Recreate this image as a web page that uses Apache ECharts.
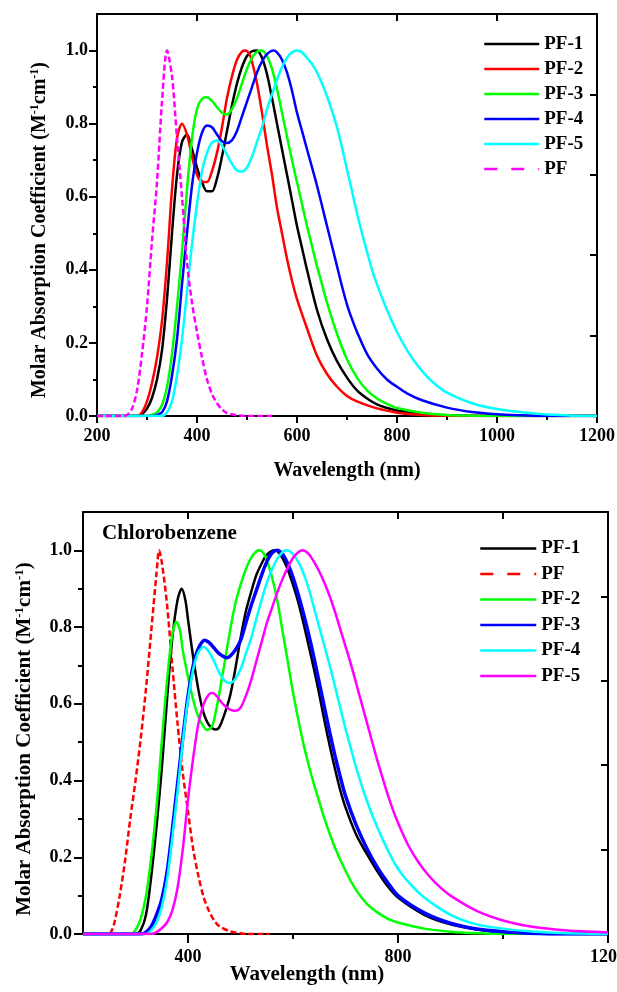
<!DOCTYPE html>
<html>
<head>
<meta charset="utf-8">
<script src="https://cdn.jsdelivr.net/npm/echarts@6/dist/echarts.min.js"></script>
<style>
html,body{margin:0;padding:0;background:#fff;}
#c1{position:absolute;left:0;top:0;width:617px;height:496px;}
#c2{position:absolute;left:0;top:496px;width:617px;height:496px;}
</style>
</head>
<body>
<div id="c1"></div>
<div id="c2"></div>
<script>
// ---------- Top panel data: [wavelength (nm), normalized absorption] ----------
const topPF1 = [[200,0],[280,0],[290,0.005],[300,0.02],[310,0.05],[320,0.10],[330,0.18],[340,0.32],[350,0.50],[360,0.66],[370,0.75],[380,0.77],[390,0.73],[400,0.68],[410,0.64],[420,0.615],[430,0.615],[440,0.65],[450,0.71],[460,0.78],[470,0.85],[480,0.91],[490,0.955],[500,0.985],[510,0.998],[520,1.0],[530,0.98],[540,0.935],[550,0.87],[560,0.80],[570,0.73],[580,0.66],[590,0.59],[600,0.52],[610,0.46],[620,0.40],[640,0.29],[660,0.21],[680,0.15],[700,0.105],[720,0.07],[740,0.048],[760,0.032],[780,0.022],[800,0.015],[850,0.006],[900,0.002],[1000,0],[1200,0]];
const topPF2 = [[200,0],[280,0],[290,0.01],[300,0.04],[310,0.09],[320,0.16],[330,0.26],[340,0.42],[350,0.62],[360,0.76],[370,0.80],[380,0.77],[390,0.71],[400,0.66],[410,0.64],[420,0.64],[430,0.67],[440,0.72],[450,0.79],[460,0.87],[470,0.93],[480,0.975],[490,0.997],[497,1.0],[505,0.99],[510,0.97],[520,0.91],[530,0.83],[540,0.74],[550,0.66],[560,0.57],[570,0.50],[580,0.43],[590,0.37],[600,0.32],[620,0.24],[640,0.165],[660,0.115],[680,0.08],[700,0.055],[720,0.04],[750,0.025],[775,0.016],[800,0.009],[850,0.003],[900,0.001],[1000,0],[1200,0]];
const topPF3 = [[200,0],[300,0],[310,0.003],[320,0.01],[330,0.03],[340,0.08],[350,0.17],[360,0.30],[370,0.45],[380,0.62],[390,0.76],[400,0.84],[410,0.868],[420,0.872],[430,0.862],[440,0.845],[450,0.83],[460,0.825],[470,0.84],[480,0.87],[490,0.91],[500,0.95],[510,0.98],[520,0.997],[530,1.0],[540,0.985],[550,0.95],[560,0.895],[570,0.83],[580,0.765],[590,0.70],[600,0.64],[610,0.58],[620,0.52],[630,0.465],[640,0.41],[650,0.36],[660,0.31],[680,0.225],[700,0.155],[720,0.105],[740,0.07],[760,0.048],[780,0.033],[800,0.022],[850,0.009],[900,0.003],[950,0.001],[1000,0],[1200,0]];
const topPF4 = [[200,0],[310,0],[320,0.003],[330,0.01],[340,0.04],[350,0.11],[360,0.21],[370,0.36],[380,0.50],[390,0.63],[400,0.72],[410,0.775],[420,0.795],[430,0.79],[440,0.77],[450,0.752],[460,0.747],[470,0.755],[480,0.78],[490,0.82],[500,0.86],[510,0.90],[520,0.94],[530,0.97],[540,0.99],[553,1.0],[560,0.995],[570,0.975],[580,0.94],[590,0.89],[600,0.83],[610,0.78],[620,0.73],[640,0.63],[660,0.52],[680,0.41],[690,0.355],[700,0.305],[710,0.265],[720,0.23],[740,0.17],[760,0.13],[780,0.10],[800,0.08],[820,0.062],[850,0.043],[900,0.023],[950,0.011],[1000,0.005],[1050,0.002],[1100,0],[1200,0]];
const topPF5 = [[200,0],[330,0],[340,0.01],[350,0.04],[360,0.11],[370,0.21],[380,0.34],[390,0.47],[400,0.58],[410,0.67],[420,0.72],[430,0.748],[440,0.754],[450,0.74],[460,0.715],[470,0.69],[480,0.672],[490,0.669],[500,0.68],[510,0.71],[520,0.75],[530,0.79],[540,0.84],[550,0.88],[560,0.92],[570,0.955],[580,0.98],[590,0.995],[600,1.0],[610,0.995],[620,0.98],[630,0.963],[640,0.94],[650,0.91],[660,0.875],[670,0.835],[680,0.79],[690,0.735],[700,0.675],[710,0.615],[720,0.555],[730,0.50],[740,0.45],[750,0.40],[760,0.36],[780,0.29],[800,0.23],[820,0.18],[840,0.14],[860,0.108],[880,0.083],[900,0.064],[950,0.035],[1000,0.019],[1050,0.01],[1100,0.004],[1150,0.001],[1200,0]];
const topPF  = [[200,0],[250,0],[260,0.003],[270,0.02],[280,0.07],[290,0.17],[300,0.30],[310,0.48],[320,0.64],[330,0.86],[340,1.0],[350,0.93],[360,0.76],[370,0.60],[380,0.42],[390,0.31],[400,0.23],[410,0.16],[420,0.10],[430,0.06],[440,0.035],[450,0.018],[460,0.008],[480,0.002],[500,0],[555,0]];

// ---------- Bottom panel data (Chlorobenzene) ----------
const botPF1 = [[200,0],[300,0],[310,0.01],[320,0.05],[330,0.15],[340,0.28],[350,0.43],[360,0.61],[370,0.77],[380,0.87],[388,0.90],[395,0.87],[400,0.82],[410,0.72],[420,0.635],[430,0.575],[440,0.545],[453,0.533],[460,0.54],[470,0.575],[480,0.62],[490,0.69],[500,0.77],[510,0.84],[520,0.89],[530,0.935],[540,0.965],[550,0.988],[565,1.0],[570,0.998],[580,0.98],[590,0.95],[600,0.91],[610,0.865],[620,0.81],[630,0.75],[640,0.69],[650,0.625],[660,0.555],[670,0.49],[680,0.43],[690,0.375],[700,0.33],[720,0.26],[740,0.21],[760,0.165],[780,0.125],[800,0.095],[850,0.05],[900,0.025],[950,0.012],[1000,0.005],[1050,0.002],[1100,0],[1200,0]];
const botPF  = [[200,0],[250,0],[255,0.01],[260,0.03],[270,0.10],[280,0.19],[290,0.30],[300,0.40],[310,0.51],[320,0.64],[330,0.79],[340,0.94],[345,1.0],[350,0.97],[360,0.86],[370,0.70],[380,0.55],[390,0.42],[400,0.32],[410,0.22],[420,0.15],[430,0.095],[440,0.06],[450,0.035],[460,0.02],[480,0.007],[500,0.002],[510,0],[555,0]];
const botPF2 = [[200,0],[290,0],[300,0.01],[310,0.04],[320,0.10],[330,0.20],[340,0.33],[350,0.50],[360,0.66],[370,0.78],[378,0.813],[385,0.79],[390,0.74],[400,0.67],[410,0.61],[420,0.565],[430,0.54],[436,0.532],[445,0.54],[450,0.56],[460,0.63],[470,0.71],[480,0.79],[490,0.86],[500,0.91],[510,0.95],[520,0.98],[530,0.997],[537,1.0],[545,0.99],[550,0.975],[560,0.93],[570,0.87],[580,0.79],[590,0.71],[600,0.63],[610,0.56],[620,0.495],[630,0.44],[640,0.39],[650,0.345],[660,0.30],[680,0.225],[700,0.165],[720,0.115],[740,0.08],[760,0.057],[780,0.04],[800,0.03],[850,0.014],[900,0.006],[950,0.002],[1000,0],[1200,0]];
const botPF3 = [[200,0],[310,0],[320,0.005],[330,0.02],[340,0.05],[350,0.09],[360,0.16],[370,0.27],[380,0.39],[390,0.51],[400,0.62],[410,0.70],[420,0.745],[432,0.766],[440,0.76],[450,0.745],[460,0.73],[474,0.72],[480,0.724],[490,0.74],[500,0.765],[510,0.81],[520,0.855],[530,0.895],[540,0.935],[550,0.97],[560,0.993],[570,1.0],[580,0.99],[590,0.965],[600,0.93],[610,0.885],[620,0.835],[630,0.78],[640,0.72],[650,0.655],[660,0.59],[670,0.525],[680,0.465],[690,0.41],[700,0.36],[720,0.285],[740,0.225],[760,0.175],[780,0.135],[800,0.10],[850,0.055],[900,0.028],[950,0.013],[1000,0.006],[1050,0.002],[1100,0],[1200,0]];
const botPF4 = [[200,0],[320,0],[330,0.01],[340,0.03],[350,0.07],[360,0.14],[370,0.25],[380,0.37],[390,0.50],[400,0.61],[410,0.69],[420,0.735],[430,0.748],[440,0.735],[450,0.71],[460,0.68],[470,0.66],[480,0.654],[490,0.665],[500,0.69],[510,0.73],[520,0.77],[530,0.82],[540,0.87],[550,0.915],[560,0.95],[570,0.978],[580,0.995],[588,1.0],[600,0.99],[610,0.97],[620,0.94],[630,0.90],[640,0.85],[650,0.80],[660,0.75],[670,0.70],[680,0.645],[690,0.59],[700,0.535],[710,0.485],[720,0.435],[740,0.35],[760,0.28],[780,0.22],[800,0.17],[820,0.135],[850,0.095],[900,0.05],[950,0.025],[1000,0.014],[1050,0.007],[1100,0.003],[1150,0.001],[1200,0]];
const botPF5 = [[200,0],[330,0],[340,0.005],[350,0.015],[360,0.03],[370,0.06],[380,0.12],[390,0.22],[400,0.35],[410,0.46],[420,0.55],[430,0.60],[440,0.625],[447,0.628],[455,0.62],[460,0.61],[470,0.595],[480,0.585],[490,0.582],[500,0.59],[510,0.62],[520,0.66],[530,0.71],[540,0.76],[550,0.81],[560,0.85],[570,0.89],[580,0.925],[590,0.955],[600,0.98],[610,0.995],[618,1.0],[630,0.99],[640,0.97],[650,0.945],[660,0.915],[670,0.88],[680,0.84],[690,0.795],[700,0.75],[710,0.705],[720,0.655],[730,0.605],[740,0.555],[750,0.505],[760,0.455],[770,0.41],[780,0.365],[790,0.325],[800,0.29],[820,0.23],[840,0.185],[860,0.15],[880,0.122],[900,0.10],[950,0.06],[1000,0.035],[1050,0.02],[1100,0.012],[1150,0.007],[1200,0.004]];

// ---------- Tick values ----------
const yMajor = [0, 0.2, 0.4, 0.6, 0.8, 1.0];
const yMinor = [0.1, 0.3, 0.5, 0.7, 0.9];
const botXLabels = [400, 800, 1200];
const botXMinor = [600, 1000];

const F = "'Liberation Serif','Times New Roman',serif";
const AX = {color:'#000', width:2};
const lblStyle = {fontSize:18, fontWeight:'bold', fontFamily:F, color:'#000'};

function mk(name, data, color, dashed, width){
  return {
    name: name, type:'line', data: data, xAxisIndex:0, yAxisIndex:0,
    symbol:'none', showSymbol:false, smooth:0.3,
    lineStyle:{color:color, width:width||2.5, type: dashed ? [6,3] : 'solid'},
    itemStyle:{color:color}, animation:false, silent:true
  };
}

function yLabelText(x, y, fs, sfs){
  return {
    type:'text', x:x, y:y, rotation: Math.PI/2,
    style:{
      text:'{a|Molar Absorption Coefficient (M}{b|-1}{a|cm}{b|-1}{a|)}',
      rich:{
        a:{fontSize:fs, fontWeight:'bold', fontFamily:F, fill:'#000', lineHeight:fs+2},
        b:{fontSize:sfs, fontWeight:'bold', fontFamily:F, fill:'#000', lineHeight:sfs, verticalAlign:'top'}
      },
      align:'center', verticalAlign:'middle'
    }
  };
}
const legendCommon = {
  orient:'vertical', selectedMode:false, padding:0,
  itemStyle:{opacity:0, borderWidth:0},
  lineStyle:{width:2.5}
};

// ---------- Top chart ----------
const c1 = echarts.init(document.getElementById('c1'));
c1.setOption({
  animation:false,
  backgroundColor:'#fff',
  grid:{left:97, top:14, width:500, height:402, outerBoundsMode:'none', containLabel:false},
  legend:Object.assign({}, legendCommon, {
    left:483, top:34, itemWidth:55, itemHeight:14, itemGap:5,
    textStyle:{fontSize:19, fontWeight:'bold', fontFamily:F, color:'#000', lineHeight:20},
    data:['PF-1','PF-2','PF-3','PF-4','PF-5',{name:'PF', lineStyle:{type:[13,14]}}]
  }),
  xAxis:[
    {type:'value', position:'bottom', min:200, max:1200, interval:200,
     axisLine:{onZero:false, lineStyle:AX},
     axisTick:{inside:false, length:7, lineStyle:{width:2, color:'#000'}},
     minorTick:{show:true, splitNumber:2, length:4, lineStyle:{width:2, color:'#000'}},
     splitLine:{show:false}, minorSplitLine:{show:false},
     axisLabel:Object.assign({margin:11, formatter:function(v){return String(v);}}, lblStyle)},
    {type:'value', position:'top', min:200, max:1200, interval:200,
     axisLine:{onZero:false, lineStyle:AX},
     axisTick:{inside:true, length:7, lineStyle:{width:2, color:'#000'}},
     axisLabel:{show:false}, splitLine:{show:false}}
  ],
  yAxis:[
    {type:'value', position:'left', min:0, max:1.1,
     axisLine:{onZero:false, lineStyle:AX},
     axisTick:{customValues:yMajor, length:8, lineStyle:{width:2, color:'#000'}},
     axisLabel:Object.assign({customValues:yMajor, margin:9, formatter:function(v){return v.toFixed(1);}}, lblStyle),
     splitLine:{show:false}},
    {type:'value', position:'left', min:0, max:1.1,
     axisLine:{show:false},
     axisTick:{customValues:yMinor, length:4, lineStyle:{width:2, color:'#000'}},
     axisLabel:{show:false}, splitLine:{show:false}},
    {type:'value', position:'right', min:0, max:5, interval:1,
     axisLine:{onZero:false, lineStyle:AX},
     axisTick:{inside:true, length:7, lineStyle:{width:2, color:'#000'}},
     axisLabel:{show:false}, splitLine:{show:false}}
  ],
  graphic:[
    yLabelText(40, 230, 20, 12),
    {type:'text', x:347, y:471, style:{text:'Wavelength (nm)', fontSize:20, fontWeight:'bold', fontFamily:F, fill:'#000', align:'center', verticalAlign:'middle'}}
  ],
  series:[
    mk('PF-1', topPF1, '#000000'),
    mk('PF-2', topPF2, '#ff0000'),
    mk('PF-3', topPF3, '#00ff00'),
    mk('PF-4', topPF4, '#0000ff'),
    mk('PF-5', topPF5, '#00ffff'),
    mk('PF',   topPF,  '#ff00ff', true)
  ]
});

// ---------- Bottom chart ----------
const c2 = echarts.init(document.getElementById('c2'));
c2.setOption({
  animation:false,
  backgroundColor:'#fff',
  grid:{left:83, top:16, width:525, height:422, outerBoundsMode:'none', containLabel:false},
  legend:Object.assign({}, legendCommon, {
    left:479, top:42, itemWidth:56, itemHeight:14, itemGap:4.5,
    textStyle:{fontSize:19, fontWeight:'bold', fontFamily:F, color:'#000', lineHeight:21},
    data:['PF-1',{name:'PF', lineStyle:{type:[13,14]}},'PF-2','PF-3','PF-4','PF-5']
  }),
  xAxis:[
    {type:'value', position:'bottom', min:200, max:1200, interval:200,
     axisLine:{onZero:false, lineStyle:AX},
     axisTick:{customValues:botXLabels, inside:false, length:9, lineStyle:{width:2, color:'#000'}},
     splitLine:{show:false},
     axisLabel:Object.assign({customValues:botXLabels, margin:14, formatter:function(v){return String(v);}}, lblStyle)},
    {type:'value', position:'bottom', min:200, max:1200,
     axisLine:{show:false},
     axisTick:{customValues:botXMinor, inside:false, length:5, lineStyle:{width:2, color:'#000'}},
     axisLabel:{show:false}, splitLine:{show:false}},
    {type:'value', position:'top', min:200, max:1200, interval:200,
     axisLine:{onZero:false, lineStyle:AX},
     axisTick:{inside:true, length:7, lineStyle:{width:2, color:'#000'}},
     axisLabel:{show:false}, splitLine:{show:false}}
  ],
  yAxis:[
    {type:'value', position:'left', min:0, max:1.1,
     axisLine:{onZero:false, lineStyle:AX},
     axisTick:{customValues:yMajor, length:9, lineStyle:{width:2, color:'#000'}},
     axisLabel:Object.assign({customValues:yMajor, margin:11, formatter:function(v){return v.toFixed(1);}}, lblStyle),
     splitLine:{show:false}},
    {type:'value', position:'left', min:0, max:1.1,
     axisLine:{show:false},
     axisTick:{customValues:yMinor, length:5, lineStyle:{width:2, color:'#000'}},
     axisLabel:{show:false}, splitLine:{show:false}},
    {type:'value', position:'right', min:0, max:5, interval:1,
     axisLine:{onZero:false, lineStyle:AX},
     axisTick:{inside:true, length:7, lineStyle:{width:2, color:'#000'}},
     axisLabel:{show:false}, splitLine:{show:false}}
  ],
  graphic:[
    yLabelText(25, 243, 21, 13),
    {type:'text', x:307, y:479, style:{text:'Wavelength (nm)', fontSize:21, fontWeight:'bold', fontFamily:F, fill:'#000', align:'center', verticalAlign:'middle'}},
    {type:'text', x:102, y:38, style:{text:'Chlorobenzene', fontSize:21, fontWeight:'bold', fontFamily:F, fill:'#000', align:'left', verticalAlign:'middle'}}
  ],
  series:[
    mk('PF-1', botPF1, '#000000'),
    mk('PF',   botPF,  '#ff0000', true),
    mk('PF-2', botPF2, '#00ff00'),
    mk('PF-3', botPF3, '#0000ff', false, 3.5),
    mk('PF-4', botPF4, '#00ffff'),
    mk('PF-5', botPF5, '#ff00ff')
  ]
});
</script>
</body>
</html>
